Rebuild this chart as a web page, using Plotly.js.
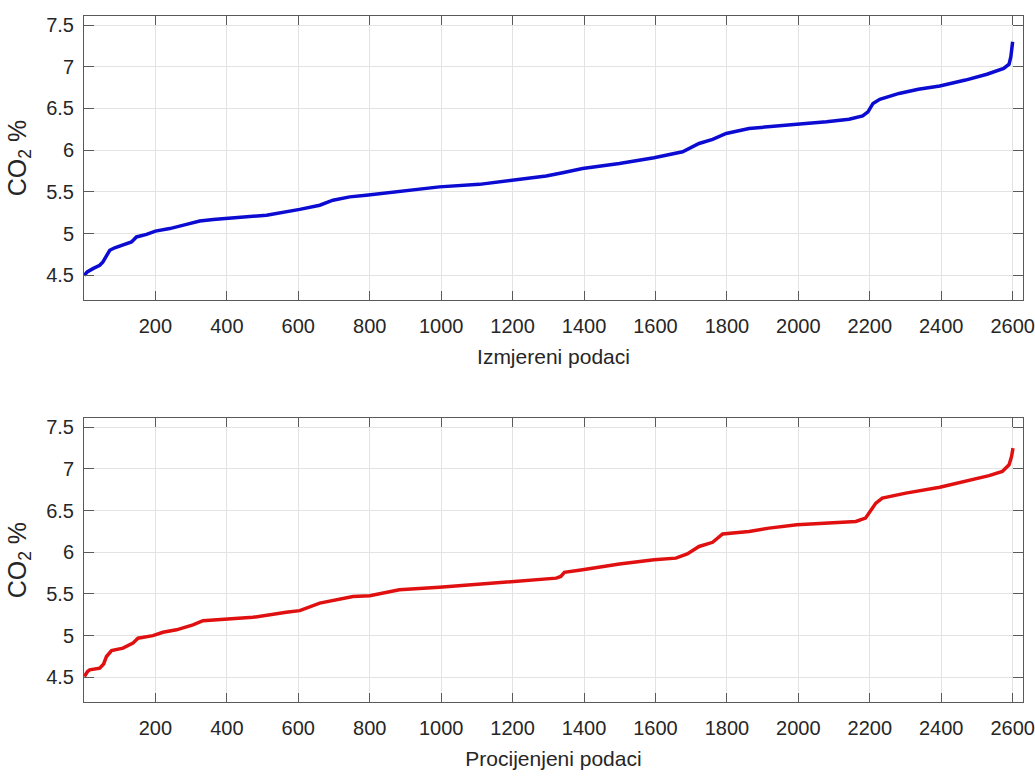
<!DOCTYPE html>
<html>
<head>
<meta charset="utf-8">
<script src="https://cdn.plot.ly/plotly-3.0.1.min.js"></script>
<style>html,body{margin:0;padding:0;background:#fff;}#chart{width:1035px;height:776px;}</style>
</head>
<body>
<div id="chart"></div>
<script>
// Measured data (top panel)
const measuredX = [1, 9, 25, 44, 53, 63, 72, 86, 119, 133, 147, 175, 200, 240, 287, 324, 362, 399, 474, 511, 604, 660, 697, 744, 790, 883, 995, 1107, 1200, 1294, 1340, 1396, 1499, 1596, 1676, 1704, 1722, 1760, 1784, 1798, 1862, 1929, 1996, 2079, 2142, 2180, 2195, 2209, 2228, 2282, 2336, 2396, 2468, 2528, 2575, 2590, 2595, 2600];
const measuredY = [4.50, 4.54, 4.58, 4.62, 4.66, 4.74, 4.80, 4.83, 4.88, 4.90, 4.96, 4.99, 5.03, 5.06, 5.11, 5.15, 5.17, 5.18, 5.20, 5.22, 5.29, 5.34, 5.40, 5.44, 5.46, 5.51, 5.56, 5.59, 5.64, 5.69, 5.73, 5.78, 5.84, 5.91, 5.98, 6.04, 6.08, 6.13, 6.18, 6.20, 6.26, 6.29, 6.31, 6.34, 6.37, 6.41, 6.46, 6.56, 6.61, 6.68, 6.73, 6.77, 6.84, 6.91, 6.98, 7.03, 7.12, 7.30];

// Estimated data (bottom panel)
const estimatedX = [1, 10, 16, 44, 55, 63, 77, 109, 137, 151, 193, 221, 259, 305, 333, 399, 473, 566, 604, 660, 753, 800, 883, 995, 1107, 1197, 1322, 1335, 1345, 1396, 1499, 1596, 1657, 1689, 1722, 1760, 1788, 1862, 1918, 1996, 2095, 2161, 2188, 2202, 2217, 2235, 2301, 2396, 2468, 2534, 2571, 2590, 2597, 2601];
const estimatedY = [4.51, 4.57, 4.59, 4.61, 4.66, 4.75, 4.82, 4.85, 4.91, 4.97, 5.00, 5.04, 5.07, 5.13, 5.18, 5.20, 5.22, 5.28, 5.30, 5.39, 5.47, 5.48, 5.55, 5.58, 5.62, 5.65, 5.69, 5.71, 5.76, 5.79, 5.86, 5.91, 5.93, 5.98, 6.07, 6.12, 6.22, 6.25, 6.29, 6.33, 6.35, 6.37, 6.41, 6.49, 6.59, 6.65, 6.71, 6.78, 6.85, 6.92, 6.97, 7.05, 7.15, 7.25];

const xTickVals = [200, 400, 600, 800, 1000, 1200, 1400, 1600, 1800, 2000, 2200, 2400, 2600];
const yTickVals = [4.5, 5, 5.5, 6, 6.5, 7, 7.5];
const yTickText = ['4.5', '5', '5.5', '6', '6.5', '7', '7.5'];
const xTitles = ['Izmjereni podaci', 'Procijenjeni podaci'];
const yTitle = 'CO<sub>2</sub> %';

const FONT = 'Liberation Sans, Arial, sans-serif';
const TXT = '#262626';
const AX = '#5a5a5a';

function xAxis(title, anchor, domainX) {
  return {
    anchor: anchor, domain: domainX,
    range: [0, 2629], tickmode: 'array', tickvals: xTickVals,
    ticks: 'inside', ticklen: 9, tickwidth: 1, tickcolor: AX,
    showline: true, linecolor: AX, linewidth: 1, mirror: 'ticks',
    showgrid: true, gridcolor: '#e3e3e3', gridwidth: 1, zeroline: false,
    tickfont: {family: FONT, size: 20, color: TXT},
    ticklabelstandoff: 8,
    title: {text: title, font: {family: FONT, size: 21, color: TXT}, standoff: 13}
  };
}
function yAxis(anchor, domainY) {
  return {
    anchor: anchor, domain: domainY,
    range: [4.204, 7.608], tickmode: 'array', tickvals: yTickVals, ticktext: yTickText,
    ticks: 'inside', ticklen: 10, tickwidth: 1, tickcolor: AX,
    showline: true, linecolor: AX, linewidth: 1, mirror: 'ticks',
    showgrid: true, gridcolor: '#e3e3e3', gridwidth: 1, zeroline: false,
    tickfont: {family: FONT, size: 20, color: TXT},
    ticklabelstandoff: 5,
    title: {text: yTitle, font: {family: FONT, size: 25, color: TXT}, standoff: 12}
  };
}

const traces = [
  {x: measuredX, y: measuredY, xaxis: 'x', yaxis: 'y', type: 'scatter', mode: 'lines',
   line: {color: '#0b0bd2', width: 3.5}, hoverinfo: 'skip'},
  {x: estimatedX, y: estimatedY, xaxis: 'x2', yaxis: 'y2', type: 'scatter', mode: 'lines',
   line: {color: '#e01010', width: 3.5}, hoverinfo: 'skip'}
];

const layout = {
  width: 1035, height: 776,
  margin: {l: 84, r: 12, t: 16, b: 74},
  paper_bgcolor: '#ffffff', plot_bgcolor: '#ffffff',
  showlegend: false,
  xaxis: xAxis(xTitles[0], 'y', [0, 1]),
  yaxis: yAxis('x', [0.586, 1]),
  xaxis2: xAxis(xTitles[1], 'y2', [0, 1]),
  yaxis2: yAxis('x2', [0, 0.4136])
};

Plotly.newPlot('chart', traces, layout, {staticPlot: true, displayModeBar: false});
</script>
</body>
</html>
